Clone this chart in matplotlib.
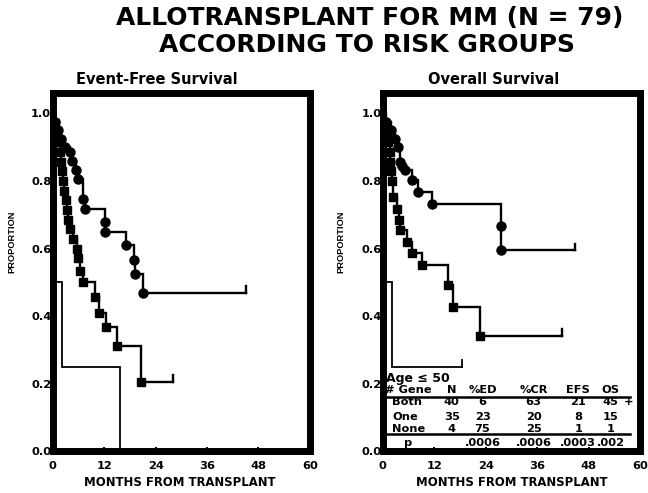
import matplotlib
matplotlib.use("Agg")
import matplotlib.pyplot as plt

plt.rcParams['font.family'] = ['DejaVu Sans']
plt.rcParams['font.weight'] = 'bold'

# Kaplan-Meier steps: (month of event, proportion after event)
efs_both_t = [0.5, 1.2, 2.0, 2.8, 4.0, 4.6, 5.4, 6.0, 7.1, 7.5, 12.2, 12.3, 17.0, 19.0, 19.1, 21.0]
efs_both_v = [0.975, 0.95, 0.925, 0.90, 0.886, 0.86, 0.832, 0.807, 0.748, 0.718, 0.679, 0.649, 0.61, 0.566, 0.526, 0.469]
efs_both_end = 45.1

efs_one_t = [0.5, 1.0, 1.5, 1.8, 2.0, 2.2, 2.4, 2.6, 3.0, 3.3, 3.6, 4.0, 4.8, 5.6, 6.0, 6.4, 7.1, 9.9, 10.7, 12.4, 15.1, 20.6]
efs_one_v = [0.971, 0.943, 0.914, 0.886, 0.857, 0.829, 0.80, 0.771, 0.743, 0.714, 0.686, 0.657, 0.629, 0.60, 0.571, 0.535, 0.50, 0.457, 0.411, 0.369, 0.313, 0.206]
efs_one_end = 28.1

efs_none_t = [0.3, 0.8, 2.1, 15.7]
efs_none_v = [0.75, 0.50, 0.25, 0.0]

os_both_t = [0.8, 2.0, 2.8, 3.5, 4.0, 4.6, 5.2, 6.8, 8.3, 11.5, 27.5, 27.6]
os_both_v = [0.975, 0.95, 0.925, 0.90, 0.856, 0.845, 0.832, 0.802, 0.768, 0.733, 0.667, 0.595]
os_both_end = 44.8

os_one_t = [0.5, 1.0, 1.3, 1.6, 1.8, 2.0, 2.2, 2.5, 3.3, 3.7, 4.0, 5.6, 6.8, 9.1, 15.2, 16.3, 22.8]
os_one_v = [0.971, 0.943, 0.914, 0.886, 0.857, 0.829, 0.80, 0.753, 0.718, 0.684, 0.654, 0.62, 0.586, 0.551, 0.492, 0.428, 0.341]
os_one_end = 41.7

os_none_t = [0.3, 0.8, 2.1]
os_none_v = [0.75, 0.50, 0.25]
os_none_end = 18.6

# summary table (age <= 50)
table_cols = ['N', '%ED', '%CR', 'EFS', 'OS']
table_rows = ['Both', 'One', 'None']
table_vals = [['40', '6', '63', '21', '45'],
              ['35', '23', '20', '8', '15'],
              ['4', '75', '25', '1', '1']]
table_p = ['', '.0006', '.0006', '.0003', '.002']


def km_path(times, values, end=None):
    xs, ys = [0.0], [1.0]
    cur = 1.0
    for t, v in zip(times, values):
        xs += [t, t]
        ys += [cur, v]
        cur = v
    if end is not None:
        xs.append(end)
        ys.append(cur)
    return xs, ys


def draw_curve(ax, times, values, end, marker=None, lw=1.7, censor=True):
    xs, ys = km_path(times, values, end)
    ax.plot(xs, ys, color='black', lw=lw, solid_joinstyle='miter')
    if marker:
        ax.plot(times, values, linestyle='none', marker=marker, color='black',
                ms=6.5 if marker == 'o' else 6)
    if censor and end is not None:
        ax.plot([end, end], [ys[-1], ys[-1] + 0.02], color='black', lw=lw)


def style_axes(ax):
    ax.set_xlim(0, 60)
    ax.set_ylim(0, 1.06)
    for sp in ax.spines.values():
        sp.set_linewidth(5)
    ax.set_xticks(range(0, 61, 12))
    ax.set_yticks([0.0, 0.2, 0.4, 0.6, 0.8, 1.0])
    ax.set_yticklabels(['0.0', '0.2', '0.4', '0.6', '0.8', '1.0'])
    ax.tick_params(direction='in', length=3, width=1.5, labelsize=8.2, pad=1)
    ax.tick_params(axis='x', pad=7)
    for lab in ax.get_xticklabels() + ax.get_yticklabels():
        lab.set_fontweight('bold')


fig = plt.figure(figsize=(6.48, 4.93), dpi=100)
ax1 = fig.add_axes([0.0813, 0.0842, 0.397, 0.727])
ax2 = fig.add_axes([0.5906, 0.0842, 0.397, 0.727])

# event-free survival
draw_curve(ax1, efs_both_t, efs_both_v, efs_both_end, marker='o')
draw_curve(ax1, efs_one_t, efs_one_v, efs_one_end, marker='s')
draw_curve(ax1, efs_none_t, efs_none_v, None, lw=1.3, censor=False)
style_axes(ax1)

# overall survival
draw_curve(ax2, os_both_t, os_both_v, os_both_end, marker='o')
draw_curve(ax2, os_one_t, os_one_v, os_one_end, marker='s')
draw_curve(ax2, os_none_t, os_none_v, os_none_end, lw=1.3)
style_axes(ax2)

# table inside the OS panel
col_x = [16.1, 23.3, 35.2, 45.6, 53.2]
row_y = [0.146, 0.102, 0.066]
tk = dict(fontsize=8.2, fontweight='bold', va='center')
ax2.text(0.8, 0.215, 'Age \u2264 50', fontsize=9, fontweight='bold', va='center')
ax2.text(0.6, 0.182, '# Gene', ha='left', **tk)
for x, c in zip(col_x, table_cols):
    ax2.text(x, 0.182, c, ha='center', **tk)
for y, name, vals in zip(row_y, table_rows, table_vals):
    ax2.text(2.2, y, name, ha='left', **tk)
    for x, v in zip(col_x, vals):
        ax2.text(x, y, v, ha='center', **tk)
ax2.text(56.3, row_y[0], '+', ha='left', **tk)
ax2.plot([0.5, 57.7], [0.160, 0.160], color='black', lw=1.8)
ax2.plot([0.5, 57.7], [0.053, 0.053], color='black', lw=1.8)
ax2.text(5.9, 0.026, 'p', ha='center', **tk)
for x, v in zip(col_x[1:], table_p[1:]):
    ax2.text(x, 0.026, v, ha='center', **tk)

# titles and axis labels
fig.text(0.571, 0.963, 'ALLOTRANSPLANT FOR MM (N = 79)', ha='center', va='center',
         fontsize=18, fontweight='bold')
fig.text(0.566, 0.909, 'ACCORDING TO RISK GROUPS', ha='center', va='center',
         fontsize=18, fontweight='bold')
fig.text(0.242, 0.838, 'Event-Free Survival', ha='center', va='center',
         fontsize=10.5, fontweight='bold')
fig.text(0.762, 0.838, 'Overall Survival', ha='center', va='center',
         fontsize=10.5, fontweight='bold')
for x in (0.019, 0.526):
    fig.text(x, 0.51, 'PROPORTION', rotation=90, ha='center', va='center',
             fontsize=6.7, fontweight='bold',
             family=['Liberation Sans Narrow', 'Liberation Sans'])
for x in (0.278, 0.789):
    fig.text(x, 0.022, 'MONTHS FROM TRANSPLANT', ha='center', va='center',
             fontsize=8.4, fontweight='bold')

fig.savefig('out.png', dpi=100)
